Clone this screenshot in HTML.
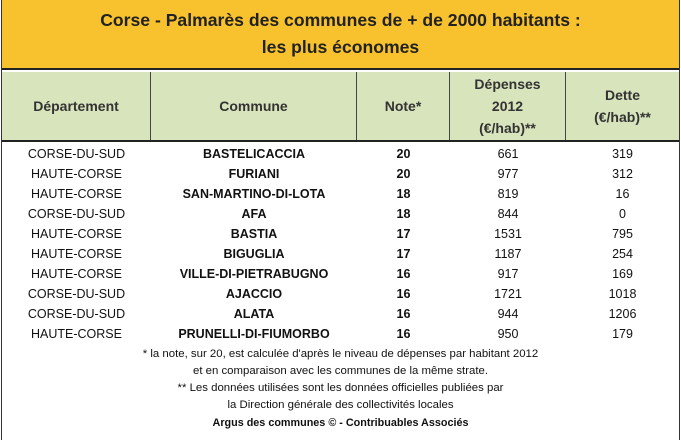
<!DOCTYPE html>
<html><head><meta charset="utf-8"><style>
body{margin:0;width:681px;height:432px;background:#fff;font-family:"Liberation Sans",sans-serif;position:relative;overflow:hidden}
.box{position:absolute;left:1px;top:0;width:677px;height:440px;border-left:1px solid #333;border-right:1px solid #333}
.title{position:absolute;left:2px;top:0;width:677px;height:70px;background:#f8c22e;border-bottom:2px solid #222;text-align:center;font-weight:bold;font-size:17.6px;color:#222;line-height:27px;padding-top:7px;box-sizing:border-box}
.head{position:absolute;left:2px;top:72px;width:677px;height:68px;background:#d8e4bc;border-bottom:2px solid #222}
.hc{position:absolute;top:0;height:68px;display:flex;align-items:center;justify-content:center;text-align:center;font-weight:bold;font-size:14px;color:#333;line-height:22px;border-right:1px solid #444;box-sizing:border-box}
.row{position:absolute;left:2px;width:677px;height:20px;font-size:12.5px;color:#111}
.row span{position:absolute;top:3px;text-align:center}
.b{font-weight:bold}
.note{position:absolute;left:2px;width:677px;text-align:center;font-size:11.4px;color:#111}
</style></head><body>
<div class="box"></div>
<div class="title">Corse - Palmarès des communes de + de 2000 habitants :<br>les plus économes</div>
<div class="head">
<div class="hc" style="left:0;width:149px">Département</div>
<div class="hc" style="left:149px;width:206px">Commune</div>
<div class="hc" style="left:355px;width:93px">Note*</div>
<div class="hc" style="left:448px;width:116px">Dépenses<br>2012<br>(€/hab)**</div>
<div class="hc" style="left:564px;width:113px;border-right:none">Dette<br>(€/hab)**</div>
</div>
<div id="rows"></div>
<div class="note" style="top:348px">* la note, sur 20, est calculée d'après le niveau de dépenses par habitant 2012</div>
<div class="note" style="top:365px">et en comparaison avec les communes de la même strate.</div>
<div class="note" style="top:382px">** Les données utilisées sont les données officielles publiées par</div>
<div class="note" style="top:399px">la Direction générale des collectivités locales</div>
<div class="note b" style="top:417px;font-size:10.8px">Argus des communes © - Contribuables Associés</div>
<script>
var d=[["CORSE-DU-SUD","BASTELICACCIA",20,661,319],["HAUTE-CORSE","FURIANI",20,977,312],["HAUTE-CORSE","SAN-MARTINO-DI-LOTA",18,819,16],["CORSE-DU-SUD","AFA",18,844,0],["HAUTE-CORSE","BASTIA",17,1531,795],["HAUTE-CORSE","BIGUGLIA",17,1187,254],["HAUTE-CORSE","VILLE-DI-PIETRABUGNO",16,917,169],["CORSE-DU-SUD","AJACCIO",16,1721,1018],["CORSE-DU-SUD","ALATA",16,944,1206],["HAUTE-CORSE","PRUNELLI-DI-FIUMORBO",16,950,179]];
var h="";d.forEach(function(r,i){h+='<div class="row" style="top:'+(144+i*20)+'px"><span style="left:0;width:149px">'+r[0]+'</span><span class="b" style="left:149px;width:206px">'+r[1]+'</span><span class="b" style="left:355px;width:93px">'+r[2]+'</span><span style="left:448px;width:116px">'+r[3]+'</span><span style="left:564px;width:113px">'+r[4]+'</span></div>';});
document.getElementById("rows").innerHTML=h;
</script>
</body></html>
